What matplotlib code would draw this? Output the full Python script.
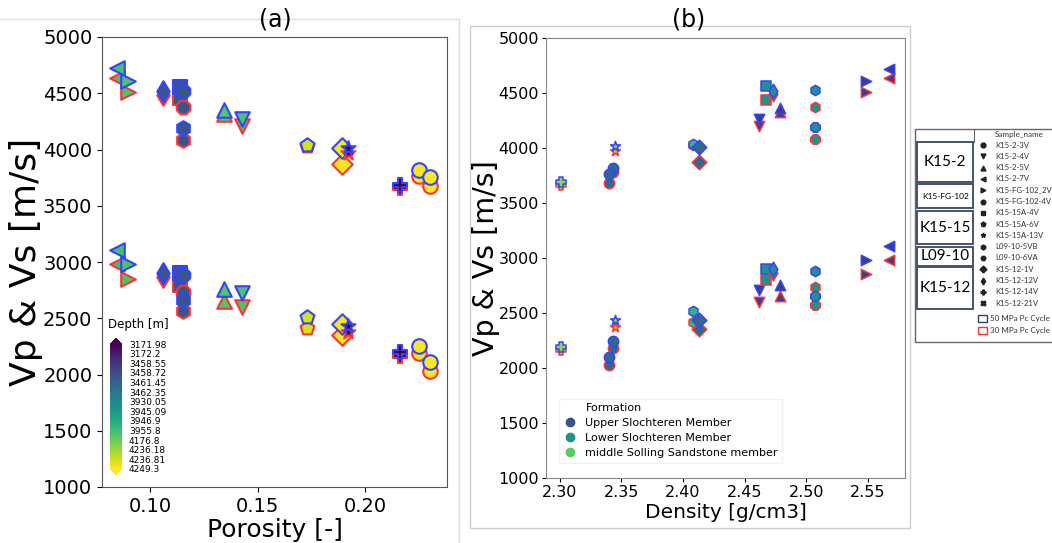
import matplotlib
matplotlib.use("Agg", force=True)
import matplotlib.pyplot as plt
from matplotlib.colors import Normalize
from matplotlib.cm import ScalarMappable
from matplotlib.lines import Line2D
from matplotlib.patches import Rectangle

# ---- panel (a): porosity vs Vp / Vs, fill coloured by depth ----
poro = [0.0848, 0.0899, 0.1059, 0.1140, 0.1152, 0.1152, 0.1344, 0.1427,
        0.1729, 0.1892, 0.1922, 0.2163, 0.2248, 0.2302]
poro_marker = ["<", ">", "d", "s", "8", "h", "^", "v", "p", "D", "*", "P", "o", "o"]
poro_depth = [3930.05, 3945.09, 3458.55, 3458.72, 3461.45, 3462.35, 3955.8, 3946.9,
              4176.8, 4236.18, 3171.98, 3172.2, 4236.81, 4249.3]
poro_vp50 = [4721, 4610, 4521, 4559, 4521, 4191, 4353, 4274, 4038, 4009, 4009, 3685, 3815, 3758]
poro_vp30 = [4639, 4509, 4486, 4456, 4374, 4088, 4320, 4206, 4030, 3873, 3970, 3661, 3764, 3676]
poro_vs50 = [3103, 2980, 2906, 2906, 2882, 2662, 2759, 2721, 2515, 2450, 2435, 2197, 2250, 2111]
poro_vs30 = [2980, 2853, 2868, 2794, 2735, 2565, 2653, 2603, 2412, 2353, 2376, 2168, 2190, 2035]

depth_labels = ["3171.98", "3172.2", "3458.55", "3458.72", "3461.45", "3462.35", "3930.05",
                "3945.09", "3946.9", "3955.8", "4176.8", "4236.18", "4236.81", "4249.3"]

# ---- panel (b): density vs Vp / Vs, fill coloured by formation ----
dens = [2.301, 2.343, 2.340, 2.345, 2.408, 2.4127, 2.4615, 2.4675, 2.473,
        2.479, 2.507, 2.507, 2.548, 2.567]
dens_marker = ["P", "o", "o", "*", "h", "D", "v", "s", "d", "^", "h", "8", ">", "<"]
dens_color = ["#8fd744", "#31688e", "#31688e", "#8fd744", "#35b779", "#31688e", "#3e3d8c",
              "#21918c", "#21918c", "#3e3d8c", "#21918c", "#21918c", "#3e3d8c", "#3e3d8c"]
dens_vp50 = [3690, 3820, 3760, 4021, 4039, 4005, 4263, 4563, 4518, 4365, 4524, 4194, 4610, 4720]
dens_vp30 = [3660, 3780, 3680, 3970, 4030, 3870, 4200, 4440, 4495, 4324, 4374, 4086, 4505, 4640]
dens_vs50 = [2191, 2242, 2100, 2433, 2515, 2440, 2712, 2903, 2903, 2757, 2878, 2657, 2978, 3110]
dens_vs30 = [2166, 2178, 2030, 2370, 2415, 2355, 2597, 2797, 2866, 2657, 2736, 2570, 2855, 2978]

formations = ["Upper Slochteren Member", "Lower Slochteren Member", "middle Solling Sandstone member"]
formation_colors = ["#3b528b", "#21918c", "#5ec962"]

sample_names = ["K15-2-3V", "K15-2-4V", "K15-2-5V", "K15-2-7V", "K15-FG-102_2V", "K15-FG-102-4V",
                "K15-15A-4V", "K15-15A-6V", "K15-15A-13V", "L09-10-5VB", "L09-10-6VA",
                "K15-12-1V", "K15-12-12V", "K15-12-14V", "K15-12-21V"]
sample_markers = ["o", "v", "^", "<", ">", "8", "s", "p", "*", "h", "H", "D", "d", "P", "X"]
well_groups = ["K15-2", "K15-FG-102", "K15-15", "L09-10", "K15-12"]

BLUE = "#3344ff"
RED = "#ff3333"

fig = plt.figure(figsize=(10.52, 5.43), dpi=100)

# overlay in pixel units for the panel frames and the side legend
over = fig.add_axes([0, 0, 1, 1])
over.set_xlim(0, 1052)
over.set_ylim(543, 0)
over.axis("off")
over.plot([0, 459], [19, 19], color="#dddddd", lw=1)
over.plot([459, 459], [19, 543], color="#dddddd", lw=1)
over.add_patch(Rectangle((470, 26), 440, 502, fill=False, ec="#cccccc", lw=1))
over.text(275, 19, "(a)", fontsize=17, ha="center", va="center")
over.text(689, 19, "(b)", fontsize=17, ha="center", va="center")

# ---- panel (a) ----
ax1 = fig.add_axes([102 / 1052, 56 / 543, 345 / 1052, 450 / 543])
norm = Normalize(min(poro_depth), max(poro_depth))
cmap = plt.get_cmap("viridis")
for i in range(len(poro)):
    fc = cmap(norm(poro_depth[i]))
    for vp, vs, ec in ((poro_vp30[i], poro_vs30[i], RED), (poro_vp50[i], poro_vs50[i], BLUE)):
        ax1.scatter([poro[i], poro[i]], [vp, vs], marker=poro_marker[i], s=110,
                    c=[fc], edgecolors=ec, linewidths=1.5, zorder=3)
ax1.set_xlim(0.0777, 0.238)
ax1.set_ylim(1000, 5000)
ax1.set_xticks([0.10, 0.15, 0.20])
ax1.set_yticks(range(1000, 5001, 500))
ax1.tick_params(labelsize=14)
ax1.set_xlabel("Porosity [-]", fontsize=18, labelpad=2)
ax1.set_ylabel("Vp & Vs [m/s]", fontsize=26, labelpad=0)
for sp in ax1.spines.values():
    sp.set_color("#555555")

# depth colour key
cax = fig.add_axes([110 / 1052, 68 / 543, 12 / 1052, 137 / 543])
cb = fig.colorbar(ScalarMappable(norm=Normalize(0, len(depth_labels) - 1), cmap="viridis_r"),
                  cax=cax, extend="both", ticks=range(len(depth_labels)))
cb.set_ticklabels(depth_labels[::-1])
cb.outline.set_visible(False)
cax.tick_params(labelsize=6.5, length=0, pad=5)
ax1.text(0.018, 0.362, "Depth [m]", transform=ax1.transAxes, fontsize=8.5, va="center")

# ---- panel (b) ----
ax2 = fig.add_axes([546 / 1052, 65 / 543, 359 / 1052, 440 / 543])
for i in range(len(dens)):
    for vp, vs, ec in ((dens_vp30[i], dens_vs30[i], RED), (dens_vp50[i], dens_vs50[i], BLUE)):
        ax2.scatter([dens[i], dens[i]], [vp, vs], marker=dens_marker[i], s=55,
                    c=[dens_color[i]], edgecolors=ec, linewidths=1.1, zorder=3)
ax2.set_xlim(2.289, 2.580)
ax2.set_ylim(1000, 5000)
ax2.set_xticks([2.30, 2.35, 2.40, 2.45, 2.50, 2.55])
ax2.set_yticks(range(1000, 5001, 500))
ax2.tick_params(labelsize=11.5, length=3, pad=2)
ax2.set_xlabel("Density [g/cm3]", fontsize=14.5, labelpad=2)
ax2.set_ylabel("Vp & Vs [m/s]", fontsize=20.5, labelpad=-1)
for sp in ax2.spines.values():
    sp.set_color("#888888")

handles = [Line2D([], [], ls="none", marker="")]
handles += [Line2D([], [], ls="none", marker="o", ms=6, mfc=c, mec=c) for c in formation_colors]
leg = ax2.legend(handles, ["Formation"] + formations, loc="lower left",
                 bbox_to_anchor=(0.02, 0.022), fontsize=8, labelspacing=0.45,
                 handletextpad=0.8, handlelength=1.2, fancybox=False, edgecolor="#eeeeee")

# ---- side legend (sample names grouped by well) ----
over.add_patch(Rectangle((915, 129), 160, 213, fill=False, ec="#666666", lw=1, clip_on=False))
over.plot([974, 974], [129, 142], color="#666666", lw=0.8)
box_tops = [142.3, 184.0, 210.7, 246.7, 267.3]
box_bots = [181.7, 208.3, 244.3, 265.7, 309.3]
for name, top, bot in zip(well_groups, box_tops, box_bots):
    over.add_patch(Rectangle((917.3, top), 56, bot - top, fill=False, ec="#44546a", lw=1.4))
    over.text(945.3, (top + bot) / 2, name, ha="center", va="center",
              fontsize=6 if len(name) > 6 else 11, family="Lato")
over.text(995, 134, "Sample_name", fontsize=5.8, family="Lato", color="#333333", va="center")
for i, (name, mk) in enumerate(zip(sample_names, sample_markers)):
    y = 145 + 11.3 * i
    over.plot(983.3, y, marker=mk, ms=3.5, color="#222222", ls="none")
    over.text(995, y, name, fontsize=5.6, family="Lato", color="#333333", va="center")
for y, ec, lab in ((315, "#2f3f6f", "50 MPa Pc Cycle"), (327.3, RED, "30 MPa Pc Cycle")):
    over.add_patch(Rectangle((977.7, y), 9.6, 6.7, fill=False, ec=ec, lw=1))
    over.text(990.5, y + 3.4, lab, fontsize=5.8, family="Lato", color="#333333", va="center")

fig.savefig("out.png", dpi=100)
